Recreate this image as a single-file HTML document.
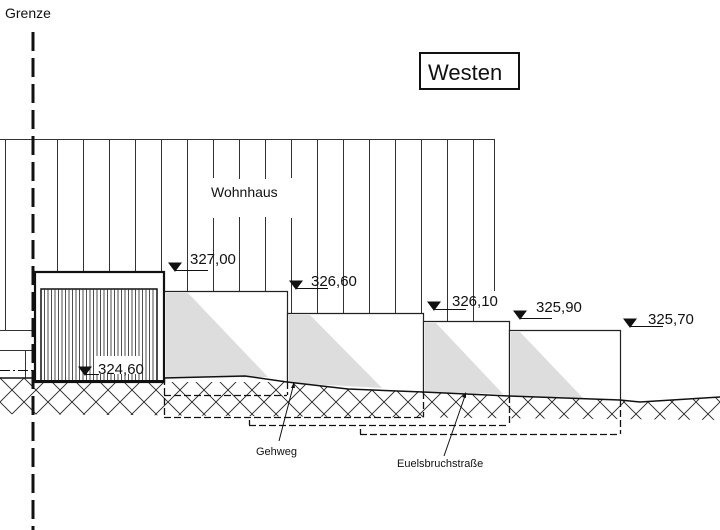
<!DOCTYPE html>
<html><head><meta charset="utf-8"><style>html,body{margin:0;padding:0;background:#fff}svg{display:block}text{font-family:"Liberation Sans",sans-serif;fill:#111}</style></head><body>
<svg width="720" height="530" viewBox="0 0 720 530" xmlns="http://www.w3.org/2000/svg">
<defs>
<pattern id="h" width="24" height="24" patternUnits="userSpaceOnUse" x="0" y="378">
<path d="M0 0L24 24M24 0L0 24" stroke="#222" stroke-width="0.9" fill="none"/>
</pattern>
<clipPath id="gc"><path d="M0 378 L164 378 L245 376 L287 382 L348 389 L423 392 L509 396 L620 400 L640 402 L720 397 L720 420 L0 414 Z"/></clipPath>
</defs>
<rect x="0" y="370" width="720" height="60" fill="url(#h)" clip-path="url(#gc)"/>
<!-- house -->
<g stroke="#333" stroke-width="1" fill="none">
<path d="M0 139.5H494.5V291"/>
<path d="M5.5 139V330M57.5 139V272M83.5 139V272M109.5 139V272M135.5 139V272M161.5 139V272M187.5 139V291M239.5 139V291M265.5 139V291"/>
<path d="M213.5 139V178M213.5 218V291M239.5 139V178M265.5 139V178M291.5 139V178M291.5 218V313"/>
<path d="M317.5 139V313M343.5 139V313M369.5 139V313M395.5 139V313M421.5 139V313M447.5 139V321M473.5 139V321"/>
</g>
<rect x="239" y="179" width="53" height="38" fill="#fff"/>
<text x="211" y="197" font-size="14">Wohnhaus</text>
<!-- left small structures -->
<g stroke="#333" stroke-width="1" fill="none"><path d="M0 330.5H33M0 350.5H33M25.5 350V378"/></g>
<!-- steps -->
<g fill="#fff" stroke="#222" stroke-width="1.2">
<path d="M164 382V291.5H287.5V382"/>
<path d="M287.5 382V313.5H423.5V392"/>
<path d="M423.5 392V321.5H509.5V396"/>
<path d="M509.5 396V330.5H620.5V400"/>
</g>
<g fill="#ddd">
<path d="M166 293L188 293L268 377L166 378Z"/>
<path d="M289 315L310 315L382 388L289 383Z"/>
<path d="M425 323L436 323L503 394L425 392Z"/>
<path d="M511 332L520 332L583 398L511 396Z"/>
</g>
<!-- ground line -->
<path d="M0 378 L164 378 L245 376 L287 382 L348 389 L423 392 L509 396 L620 400 L640 402 L720 397" stroke="#111" stroke-width="1.5" fill="none"/>
<!-- dashed -->
<g stroke="#111" stroke-width="1.3" fill="none" stroke-dasharray="7 3">
<path d="M0 370.5H164" stroke-dasharray="10 3 2 3" stroke-width="1"/>
<path d="M164.5 378V417M287.5 382V395M423.5 392V417M509.5 396V425M620.5 400V434"/>
<path d="M164 395.5H287M164 417.5H423M249 425.5H509M360 434.5H620"/>
<path d="M249.5 420V425M360.5 429V434" stroke-dasharray="none"/>
</g>
<!-- garage -->
<rect x="35" y="272" width="129" height="110" fill="#fff" stroke="#111" stroke-width="2.2"/>
<rect x="41" y="289" width="116" height="93" fill="#fff" stroke="#111" stroke-width="1.5"/>
<g stroke="#222" stroke-width="0.8">
<path d="M44.5 289V382M48 289V382M51.5 289V382M55 289V382M58.5 289V382M62 289V382M65.5 289V382M69 289V382M72.5 289V382M76 289V382M79.5 289V382M83 289V382M86.5 289V382M90 289V382M93.5 289V382M97 289V382M100.5 289V382M104 289V382M107.5 289V382M111 289V382M114.5 289V382M118 289V382M121.5 289V382M125 289V382M128.5 289V382M132 289V382M135.5 289V382M139 289V382M142.5 289V382M146 289V382M149.5 289V382M153 289V382"/>
</g>
<rect x="96" y="356" width="45" height="18" fill="#fff"/>
<path d="M35 381H164" stroke="#111" stroke-width="2"/>
<!-- boundary -->
<path d="M33 32V530" stroke="#111" stroke-width="3" stroke-dasharray="19 7"/>
<text x="5" y="18" font-size="14">Grenze</text>
<!-- Westen -->
<rect x="420" y="53" width="99" height="36" fill="none" stroke="#111" stroke-width="2"/>
<text x="428" y="80" font-size="22">Westen</text>
<!-- elevation markers -->
<g stroke="#111" stroke-width="1" fill="#111">
<path d="M169 263h12l-6 8z"/><path d="M175 270.5H208" fill="none"/>
<path d="M290 281h12l-6 8z"/><path d="M296 288.5H328" fill="none"/>
<path d="M428 302h12l-6 8z"/><path d="M434 309.5H466" fill="none"/>
<path d="M514 311h12l-6 8z"/><path d="M520 318.5H552" fill="none"/>
<path d="M624 319h12l-6 8z"/><path d="M630 326.5H663" fill="none"/>
<path d="M79 367h12l-6 8z"/><path d="M85 374.5H99" fill="none"/>
</g>
<g font-size="15">
<text x="190" y="264">327,00</text>
<text x="311" y="286">326,60</text>
<text x="452" y="306">326,10</text>
<text x="536" y="312">325,90</text>
<text x="648" y="324">325,70</text>
<text x="98" y="374">324,60</text>
</g>
<!-- leaders -->
<g stroke="#111" stroke-width="1" fill="none">
<path d="M279 441L294 383"/><path d="M444 456L466 393"/>
</g>
<path d="M294 382l-3 6l4 0z" fill="#111"/><path d="M466 392l-4 5l4 1z" fill="#111"/>
<text x="256" y="455" font-size="11">Gehweg</text>
<text x="397" y="467" font-size="11">Euelsbruchstraße</text>
</svg>
</body></html>
